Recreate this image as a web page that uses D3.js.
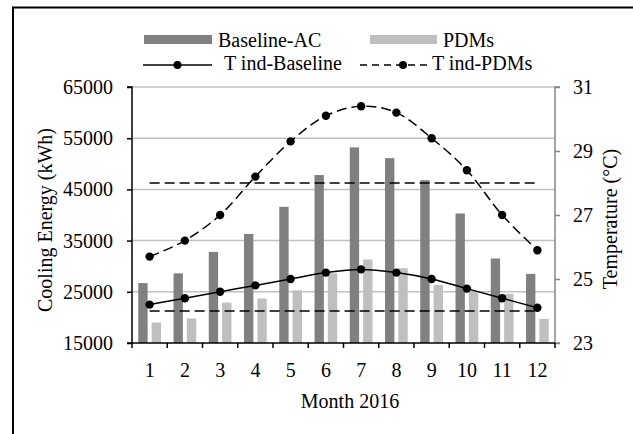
<!DOCTYPE html>
<html>
<head>
<meta charset="utf-8">
<script src="https://cdn.jsdelivr.net/npm/d3@7"></script>
<style>
  body { margin: 0; background: #fff; }
  svg text { font-family: "Liberation Serif", "Times New Roman", serif; fill: #000; }
</style>
</head>
<body>
<svg id="chart"></svg>
<script>
// data
const months = ["1","2","3","4","5","6","7","8","9","10","11","12"];
const baselineAC = [26700, 28600, 32800, 36300, 41600, 47800, 53200, 51100, 46800, 40300, 31500, 28500];
const pdms       = [19000, 19800, 22900, 23700, 25300, 28600, 31300, 29600, 26300, 25000, 24600, 19700];
const tIndBaseline = [24.2, 24.4, 24.6, 24.8, 25.0, 25.2, 25.3, 25.2, 25.0, 24.7, 24.4, 24.1];
const tIndPDMs     = [25.7, 26.2, 27.0, 28.2, 29.3, 30.1, 30.4, 30.2, 29.4, 28.4, 27.0, 25.9];
const comfortBounds = [24, 28];
const energyTicks = [15000, 25000, 35000, 45000, 55000, 65000];
const tempTicks = [23, 25, 27, 29, 31];

const width = 633;
const height = 434;
const plot = { left: 132, right: 555, top: 87, bottom: 343 };

const svg = d3.select("#chart").attr("width", width).attr("height", height);

// outer frame (runs off the right and bottom of the picture)
svg.append("rect")
  .attr("x", 13).attr("y", 7.5)
  .attr("width", 700).attr("height", 500)
  .attr("fill", "none").attr("stroke", "#000").attr("stroke-width", 2);

// scales
const x = d3.scaleBand().domain(months).range([plot.left, plot.right])
  .paddingInner(0.356).paddingOuter(0.178);
const xSub = d3.scaleBand().domain(["base", "pdm"]).range([0, x.bandwidth()]).paddingInner(0.3);
const yE = d3.scaleLinear().domain([15000, 65000]).range([plot.bottom, plot.top]);
const yT = d3.scaleLinear().domain([23, 31]).range([plot.bottom, plot.top]);
const cx = m => x(m) + x.bandwidth() / 2;

// gridlines
svg.append("g").selectAll("line")
  .data(energyTicks.slice(1)).enter().append("line")
  .attr("x1", plot.left).attr("x2", plot.right)
  .attr("y1", d => yE(d)).attr("y2", d => yE(d))
  .attr("stroke", "#c0c0c0").attr("stroke-width", 1.5);

// bars
const bars = svg.append("g");
bars.selectAll(".base").data(baselineAC).enter().append("rect")
  .attr("x", (d, i) => x(months[i]) + xSub("base"))
  .attr("y", d => yE(d))
  .attr("width", xSub.bandwidth())
  .attr("height", d => plot.bottom - yE(d))
  .attr("fill", "#808080");
bars.selectAll(".pdm").data(pdms).enter().append("rect")
  .attr("x", (d, i) => x(months[i]) + xSub("pdm"))
  .attr("y", d => yE(d))
  .attr("width", xSub.bandwidth())
  .attr("height", d => plot.bottom - yE(d))
  .attr("fill", "#bfbfbf");

// comfort limits
svg.append("g").selectAll("line")
  .data(comfortBounds).enter().append("line")
  .attr("x1", cx(months[0])).attr("x2", cx(months[11]))
  .attr("y1", d => yT(d)).attr("y2", d => yT(d))
  .attr("stroke", "#000").attr("stroke-width", 1.5)
  .attr("stroke-dasharray", "10,5");

// temperature curves
const line = d3.line()
  .x((d, i) => cx(months[i]))
  .y(d => yT(d))
  .curve(d3.curveCatmullRom.alpha(0.5));

function drawSeries(values, dash) {
  const g = svg.append("g");
  g.append("path").datum(values)
    .attr("d", line)
    .attr("fill", "none").attr("stroke", "#000").attr("stroke-width", 1.5)
    .attr("stroke-dasharray", dash);
  g.selectAll("circle").data(values).enter().append("circle")
    .attr("cx", (d, i) => cx(months[i]))
    .attr("cy", d => yT(d))
    .attr("r", 4.2).attr("fill", "#000");
}
drawSeries(tIndBaseline, null);
drawSeries(tIndPDMs, "10,5");

// axes
const axisLeft = svg.append("g").attr("transform", `translate(${plot.left},0)`)
  .call(d3.axisLeft(yE).tickValues(energyTicks).tickSize(5).tickPadding(14).tickFormat(d3.format("d")));
const axisRight = svg.append("g").attr("transform", `translate(${plot.right},0)`)
  .call(d3.axisRight(yT).tickValues(tempTicks).tickSize(5).tickPadding(13));
const axisBottom = svg.append("g").attr("transform", `translate(0,${plot.bottom})`)
  .call(d3.axisBottom(x).tickSize(0).tickPadding(20));

// bottom ticks sit on category boundaries
axisBottom.selectAll(".bound")
  .data(d3.range(months.length + 1)).enter().append("line")
  .attr("x1", i => plot.left + i * x.step()).attr("x2", i => plot.left + i * x.step())
  .attr("y1", 0).attr("y2", 5)
  .attr("stroke", "#000").attr("stroke-width", 1.5);

[axisLeft, axisRight, axisBottom].forEach(a => {
  a.selectAll("text").attr("font-size", 20).attr("font-family", "Liberation Serif");
  a.select(".domain").attr("stroke-width", 1.5);
  a.selectAll(".tick line").attr("stroke-width", 1.5);
});
axisLeft.select(".domain").attr("d", `M-5,${plot.bottom}H0V${plot.top}H-5`);
axisRight.select(".domain").attr("stroke", "#868686").attr("d", `M5,${plot.bottom}H0V${plot.top}H5`);
axisRight.selectAll(".tick line").attr("stroke", "#868686");
axisBottom.select(".domain").attr("d", `M${plot.left},0H${plot.right}`);

// axis titles
svg.append("text")
  .attr("transform", "translate(52,220) rotate(-90)")
  .attr("text-anchor", "middle").attr("font-size", 20)
  .text("Cooling Energy (kWh)");
svg.append("text")
  .attr("transform", "translate(617,219) rotate(-90)")
  .attr("text-anchor", "middle").attr("font-size", 20)
  .text("Temperature (°C)");
svg.append("text")
  .attr("x", 350).attr("y", 408)
  .attr("text-anchor", "middle").attr("font-size", 20)
  .text("Month 2016");

// legend
const legend = svg.append("g").attr("font-size", 20);
legend.append("rect").attr("x", 144).attr("y", 35).attr("width", 68).attr("height", 9).attr("fill", "#808080");
legend.append("text").attr("x", 218).attr("y", 47).text("Baseline-AC");
legend.append("rect").attr("x", 370).attr("y", 35).attr("width", 67).attr("height", 9).attr("fill", "#bfbfbf");
legend.append("text").attr("x", 443).attr("y", 47).text("PDMs");

legend.append("line").attr("x1", 143).attr("x2", 212).attr("y1", 65).attr("y2", 65)
  .attr("stroke", "#000").attr("stroke-width", 1.5);
legend.append("circle").attr("cx", 177.5).attr("cy", 65).attr("r", 4).attr("fill", "#000");
legend.append("text").attr("x", 224).attr("y", 70).text("T ind-Baseline");
legend.append("line").attr("x1", 360).attr("x2", 428).attr("y1", 65).attr("y2", 65)
  .attr("stroke", "#000").attr("stroke-width", 1.5).attr("stroke-dasharray", "7,5");
legend.append("circle").attr("cx", 403).attr("cy", 65).attr("r", 4).attr("fill", "#000");
legend.append("text").attr("x", 432).attr("y", 70).text("T ind-PDMs");
</script>
</body>
</html>
